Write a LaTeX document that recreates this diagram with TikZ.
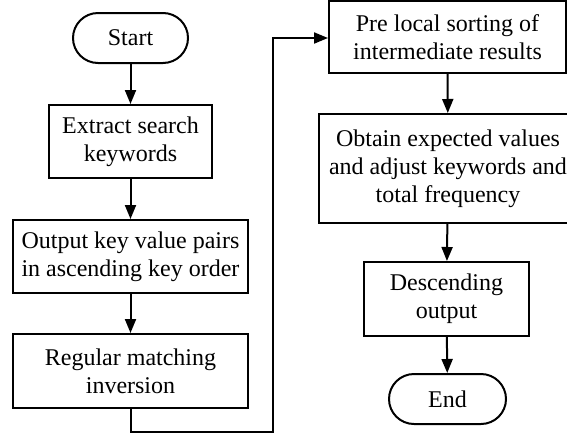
\documentclass[tikz,border=0pt]{standalone}
\usepackage{fontspec}
\setmainfont{Liberation Serif}
\usetikzlibrary{arrows.meta}
\begin{document}
\begin{tikzpicture}[x=1pt,y=-1pt,
  every node/.style={font=\fontsize{24}{28}\selectfont, align=center, inner sep=0pt, line width=2pt, draw},
  box/.style={rectangle},
  term/.style={rectangle, rounded corners=25pt},
  link/.style={line width=2pt, -{Triangle[length=14pt,width=11pt]}}]
\useasboundingbox (0,0) rectangle (567,437);
\clip (0,0) rectangle (567,437);
\node[term, minimum width=115pt, minimum height=50pt] (start) at (130.5,38) {Start};
\node[box, minimum width=163pt, minimum height=73pt] (extract) at (130.5,141.5) {Extract search\\keywords};
\node[box, minimum width=235pt, minimum height=73pt] (output) at (130.5,256.5) {Output key value pairs\\in ascending key order};
\node[box, minimum width=235pt, minimum height=74pt] (regular) at (130.5,371) {Regular matching\\inversion};
\node[box, minimum width=237pt, minimum height=72pt] (pre) at (447.5,37) {Pre local sorting of\\intermediate results};
\node[box, minimum width=258pt, minimum height=109pt] (obtain) at (448,168.5) {Obtain expected values\\and adjust keywords and\\total frequency};
\node[box, minimum width=165pt, minimum height=74pt] (desc) at (446.5,299) {Descending\\output};
\node[term, minimum width=117pt, minimum height=50pt] (end) at (447.5,399) {End};
\coordinate (c1) at (130.5,432);
\coordinate (c2) at (273,432);
\coordinate (c3) at (273,38);
\draw[link] (start) -- (extract);
\draw[link] (extract) -- (output);
\draw[link] (output) -- (regular);
\draw[link] (regular.south) -- (c1) -- (c2) -- (c3) -- (pre.west |- c3);
\draw[link] (pre) -- (obtain);
\draw[link] (obtain) -- (desc);
\draw[link] (desc) -- (end);
\end{tikzpicture}
\end{document}
